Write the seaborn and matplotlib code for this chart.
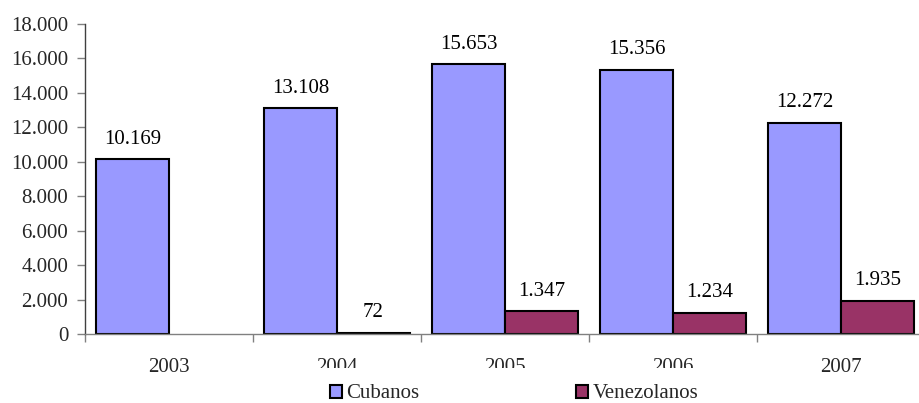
import numpy as np
import pandas as pd
import matplotlib
matplotlib.use("Agg")
import matplotlib.pyplot as plt
from matplotlib.ticker import FuncFormatter, FixedLocator
import seaborn as sns

years = ["2003", "2004", "2005", "2006", "2007"]
cubanos = [10169, 13108, 15653, 15356, 12272]
venezolanos = [None, 72, 1347, 1234, 1935]
groups = ["Cubanos", "Venezolanos"]
colors = ["#9999FF", "#993366"]

sns.set_theme(style="white")
plt.rcParams["font.family"] = ["Liberation Serif", "DejaVu Serif"]
FS = 15

rows = []
for y, c, v in zip(years, cubanos, venezolanos):
    rows.append({"Año": y, "Grupo": "Cubanos", "Valor": c})
    rows.append({"Año": y, "Grupo": "Venezolanos", "Valor": np.nan if v is None else v})
df = pd.DataFrame(rows)

fig = plt.figure(figsize=(9.2, 4.03), dpi=100)
ax = fig.add_axes([85 / 920, 69 / 403, 840 / 920, 310 / 403])

bar_w = 0.87
sns.barplot(data=df, x="Año", y="Valor", hue="Grupo", hue_order=groups,
            palette=colors, edgecolor="black", linewidth=1.5, width=bar_w,
            saturation=1, errorbar=None, ax=ax)

handles, labels = ax.get_legend_handles_labels()
if ax.get_legend() is not None:
    ax.get_legend().remove()

def fmt(v):
    return f"{int(v):,}".replace(",", ".")

# value labels above each bar
for k, series in enumerate([cubanos, venezolanos]):
    shift = (k - 0.5) * bar_w / 2
    for i, v in enumerate(series):
        if v is None:
            continue
        ax.annotate(fmt(v), xy=(i + shift, v), xytext=(0, 11),
                    textcoords="offset points", ha="center", va="baseline",
                    fontsize=FS, color="black")

ax.set_xlim(-0.5, len(years) - 0.5)
ax.set_ylim(0, 18000)
ax.set_yticks(np.arange(0, 18001, 2000))
ax.yaxis.set_major_formatter(FuncFormatter(lambda v, p: fmt(v)))
ax.set_xlabel("")
ax.set_ylabel("")

ax.xaxis.set_minor_locator(FixedLocator(np.arange(-0.5, len(years), 1.0)))
ax.tick_params(axis="x", which="major", length=0, pad=17, labelsize=FS)
ax.tick_params(axis="x", which="minor", length=6, width=1, color="#808080",
               direction="out", bottom=True)
ax.tick_params(axis="y", which="major", length=6, width=1, color="#808080",
               direction="out", left=True, pad=6, labelsize=FS)

for side in ["top", "right"]:
    ax.spines[side].set_visible(False)
ax.spines["left"].set_color("#404040")
ax.spines["bottom"].set_color("#808080")
ax.spines["left"].set_linewidth(1)
ax.spines["bottom"].set_linewidth(1)

# the legend's white box sits over the lower part of the middle year labels
leg = fig.legend(handles, labels, loc="center", bbox_to_anchor=(514 / 920, 9 / 403),
                 ncol=2, frameon=True, fontsize=FS, handlelength=0.6,
                 handleheight=0.6, handletextpad=0.2, columnspacing=7.5,
                 borderpad=0.8, fancybox=False)
leg.get_frame().set_facecolor("white")
leg.get_frame().set_edgecolor("none")
leg.get_frame().set_alpha(1)
for h in leg.legend_handles:
    h.set_edgecolor("black")
    h.set_linewidth(1.5)

fig.savefig("out.png", dpi=100)
